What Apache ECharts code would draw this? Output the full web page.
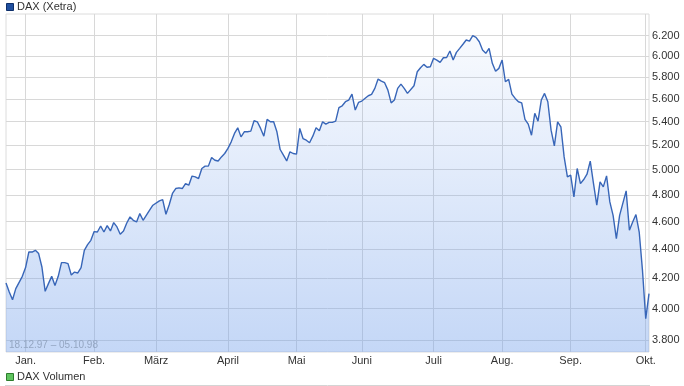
<!DOCTYPE html>
<html><head><meta charset="utf-8">
<script src="https://cdn.jsdelivr.net/npm/echarts@6/dist/echarts.min.js"></script>
<style>html,body{margin:0;padding:0;background:#fff}#c{width:684px;height:386px}</style>
</head><body><div id="c"></div>
<script>
// trading-day number counted from 18.12.97 (day 0)
const dayIndex = [0,1,2,3,5,6,7,8,9,10,11,12,13,14,15,16,17,18,19,20,21,22,23,24,25,26,27,28,29,30,31,32,33,34,35,36,37,38,39,40,41,42,44,45,47,48,49,50,
51,52,53,54,55,56,57,58,59,60,61,62,63,64,65,66,67,68,69,70,71,72,73,74,75,76,77,78,79,80,81,82,83,84,85,86,87,88,89,90,91,92,93,94,95,96,97,98,99,100,
101,102,103,104,105,106,107,108,109,111,112,113,114,115,116,117,118,119,120,121,122,123,125,126,127,128,129,130,131,132,133,134,135,136,137,138,139,140,141,142,143,144,145,146,147,148,149,150,
151,152,153,154,155,156,157,158,159,160,161,162,163,164,165,166,167,168,169,170,171,172,173,174,175,176,177,178,179,180,181,182,183,184,185,186,187,188,190,191,192,193,194,195,196,197];
const daxClose = [4167,4108,4057,4130,4212,4272,4380,4380,4392,4369,4276,4112,4163,4212,4151,4212,4306,4306,4299,4221,4241,4235,4272,4392,4432,4463,4526,4523,4567,4523,4570,4531,4592,4560,4507,4531,4589,4634,4609,4597,4659,4609,4684,4722,4755,4765,4654,4725,
4812,4850,4855,4850,4889,4876,4948,4942,4929,5009,5028,5028,5098,5076,5070,5103,5131,5173,5228,5299,5347,5270,5313,5313,5319,5408,5399,5342,5276,5420,5399,5399,5313,5164,5117,5070,5145,5131,5126,5342,5256,5242,5220,5276,5347,5322,5399,5379,5394,5394,
5405,5524,5540,5576,5591,5645,5502,5570,5582,5630,5642,5697,5783,5764,5749,5681,5566,5591,5697,5736,5697,5651,5721,5851,5889,5921,5893,5898,5979,5962,5940,5984,5987,6049,5962,6036,6075,6115,6157,6147,6200,6184,6140,6059,6027,6075,5931,5855,
5883,5962,5758,5780,5645,5606,5576,5566,5420,5379,5284,5473,5405,5591,5651,5576,5327,5194,5399,5356,5103,4942,4956,4785,5009,4889,4921,4963,5068,4889,4722,4902,4863,4950,4747,4646,4475,4646,4832,4536,4597,4652,4523,4253,3935,4097];
const monthTickDays = [6,27,46,68,89,109,131,152,173,196];
const monthLabels = ['Jan.','Feb.','März','April','Mai','Juni','Juli','Aug.','Sep.','Okt.'];
const yTickValues = [3800,4000,4200,4400,4600,4800,5000,5200,5400,5600,5800,6000,6200];
const seriesName = 'DAX (Xetra)';
const volumeName = 'DAX Volumen';
const dateRange = '18.12.97 – 05.10.98';

function fmtDE(v){ const s = String(Math.round(v)); return s.length > 3 ? s.slice(0,-3) + '.' + s.slice(-3) : s; }
const FONT = '"Liberation Sans", Arial, sans-serif';

const chart = echarts.init(document.getElementById('c'), null, {renderer:'canvas'});
chart.setOption({
  animation: false,
  backgroundColor: '#ffffff',
  grid: {left: 6, right: 35, top: 14, bottom: 34, show: true, borderColor: '#dcdcdc', borderWidth: 1, backgroundColor: '#fff'},
  xAxis: {
    type: 'value', min: 0, max: 197,
    axisLine: {show: false},
    axisTick: {show: false, customValues: monthTickDays},
    axisLabel: {customValues: monthTickDays, formatter: v => monthLabels[monthTickDays.indexOf(v)] || '', color: '#333', fontSize: 11, fontFamily: FONT, margin: 3},
    splitLine: {show: true, lineStyle: {color: '#d8d8d8', width: 1}}
  },
  yAxis: {
    type: 'log', logBase: 10, position: 'right', min: 3730, max: 6420,
    axisLine: {show: false},
    axisTick: {show: false, customValues: yTickValues},
    axisLabel: {customValues: yTickValues, formatter: v => fmtDE(v), color: '#333', fontSize: 11, fontFamily: FONT, margin: 3},
    splitLine: {show: true, lineStyle: {color: '#d8d8d8', width: 1}}
  },
  series: [{
    name: seriesName, type: 'line',
    data: dayIndex.map((d, i) => [d, daxClose[i]]),
    showSymbol: false, symbol: 'none', clip: true,
    lineStyle: {color: '#3866b8', width: 1.4},
    areaStyle: {origin: 'start', color: new echarts.graphic.LinearGradient(0, 0, 0, 1, [
      {offset: 0, color: 'rgba(115,160,235,0.07)'},
      {offset: 1, color: 'rgba(115,160,235,0.6)'}
    ])}
  }],
  graphic: [
    {type: 'rect', left: 6, top: 3, z: 100, shape: {width: 7, height: 7}, style: {fill: '#1f4f9f', stroke: '#0e2f6a', lineWidth: 1}},
    {type: 'text', left: 17, top: 1, z: 100, style: {text: seriesName, fill: '#333', font: '11px ' + FONT}},
    {type: 'text', left: 9, top: 340, z: 100, style: {text: dateRange, fill: '#94a6c2', font: '10px ' + FONT}},
    {type: 'rect', left: 6, top: 373, z: 100, shape: {width: 7, height: 7}, style: {fill: '#5fc45f', stroke: '#2d7d2d', lineWidth: 1}},
    {type: 'text', left: 17, top: 371, z: 100, style: {text: volumeName, fill: '#333', font: '11px ' + FONT}},
    {type: 'line', z: 100, shape: {x1: 5, y1: 385.5, x2: 650, y2: 385.5}, style: {stroke: '#d4d4d4', lineWidth: 1}}
  ]
});
</script></body></html>
